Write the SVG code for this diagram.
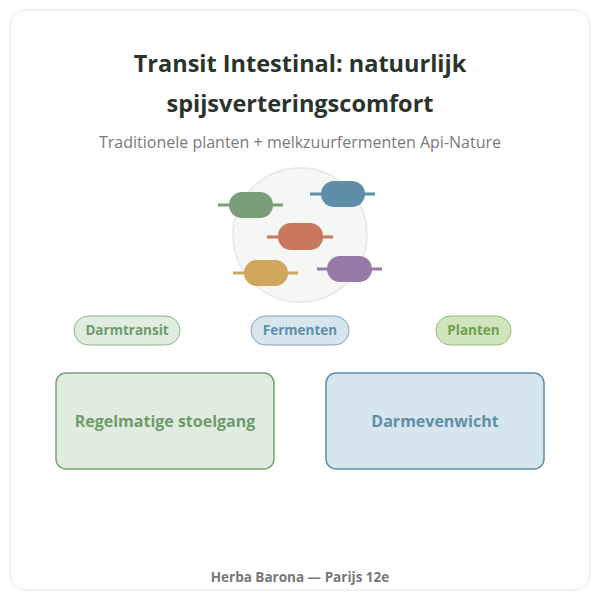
<svg xmlns="http://www.w3.org/2000/svg" width="600" height="600" viewBox="0 0 600 600">
<style>
text{font-family:"Open Sans","Noto Sans","Liberation Sans",sans-serif;text-anchor:middle}
.t{font-size:23.5px;font-weight:700;fill:#2a332c}
.tag{font-size:13.5px;font-weight:700}
.big{font-size:16px;font-weight:700}
</style>
<rect width="600" height="600" fill="#fff"/>
<rect x="10" y="10" width="580" height="580" rx="16" fill="#fff" stroke="#e6e6e6"/>
<text class="t" x="300" y="72">Transit Intestinal: natuurlijk</text>
<text class="t" x="300" y="112">spijsverteringscomfort</text>
<text x="300" y="148" font-size="16" fill="#7a7a7a">Traditionele planten + melkzuurfermenten Api-Nature</text>
<g id="illustration">
<circle cx="300" cy="235" r="67" fill="#f5f7f4" stroke="#e3e9e2" stroke-width="1.5"/>
<line x1="218" y1="205" x2="283" y2="205" stroke="#7a9e78" stroke-width="3"/>
<rect x="229" y="192" width="44" height="26" rx="13" fill="#7a9e78"/>
<line x1="310" y1="194" x2="375" y2="194" stroke="#5e8ea8" stroke-width="3"/>
<rect x="321" y="181" width="44" height="26" rx="13" fill="#5e8ea8"/>
<line x1="267" y1="237" x2="333" y2="237" stroke="#c7775b" stroke-width="3"/>
<rect x="278" y="223" width="45" height="27" rx="13" fill="#c7775b"/>
<line x1="233" y1="273" x2="298" y2="273" stroke="#d0a55c" stroke-width="3"/>
<rect x="244" y="260" width="44" height="26" rx="13" fill="#d0a55c"/>
<line x1="317" y1="269" x2="382" y2="269" stroke="#977aa8" stroke-width="3"/>
<rect x="327" y="256" width="45" height="26" rx="13" fill="#977aa8"/>
</g>
<g id="tag-darmtransit"><rect x="74" y="316" width="106" height="29" rx="14.5" fill="#e1ece0" stroke="#8fb18c"/><text class="tag" x="127" y="335" fill="#6f9a6c">Darmtransit</text></g>
<g id="tag-fermenten"><rect x="251" y="316" width="98" height="29" rx="14.5" fill="#d6e5ee" stroke="#7ea3bb"/><text class="tag" x="300" y="335" fill="#5e8ea8">Fermenten</text></g>
<g id="tag-planten"><rect x="436" y="316" width="75" height="29" rx="14.5" fill="#d0e4bd" stroke="#8fbc6e"/><text class="tag" x="473.5" y="335" fill="#6fa050">Planten</text></g>
<g id="box-stoelgang"><rect x="56" y="373" width="218" height="96" rx="10" fill="#e1ece0" stroke="#7a9e78" stroke-width="1.5"/><text class="big" x="165" y="427" fill="#6f9a6c">Regelmatige stoelgang</text></g>
<g id="box-darmevenwicht"><rect x="326" y="373" width="218" height="96" rx="10" fill="#d6e5ee" stroke="#5e8ea8" stroke-width="1.5"/><text class="big" x="435" y="427" fill="#5e8ea8">Darmevenwicht</text></g>
<g id="connectors"/>
<text x="300" y="582" font-size="13.5" font-weight="700" fill="#777">Herba Barona — Parijs 12e</text>
</svg>
